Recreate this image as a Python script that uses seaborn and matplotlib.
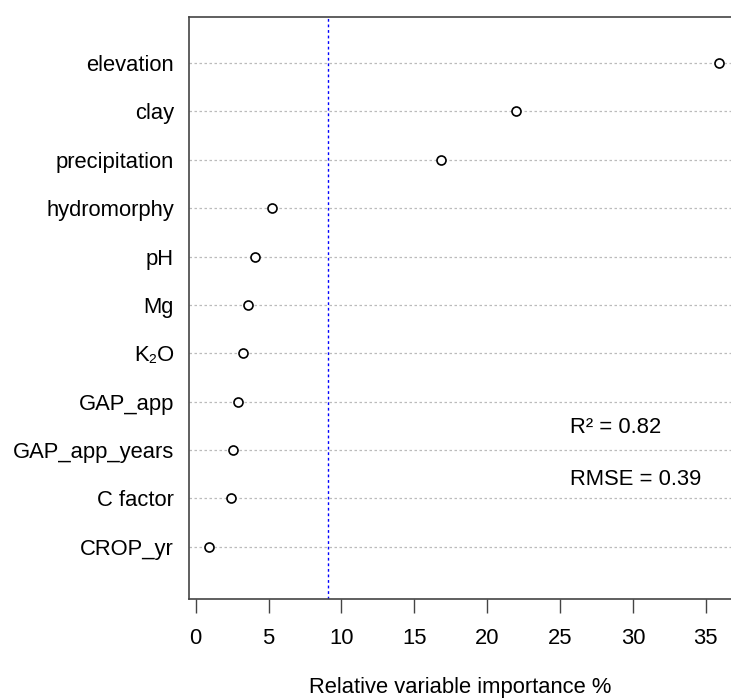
import matplotlib
matplotlib.use("Agg")
import matplotlib.pyplot as plt
import seaborn as sns
import pandas as pd
import numpy as np

variables = ["elevation", "clay", "precipitation", "hydromorphy", "pH", "Mg",
             "K\u2082O", "GAP_app", "GAP_app_years", "C factor", "CROP_yr"]
importance = [35.9, 22.0, 16.8, 5.2, 4.05, 3.6, 3.25, 2.9, 2.55, 2.42, 0.9]
mean_line = 9.09
r2_text = "R\u00b2 = 0.82"
rmse_text = "RMSE = 0.39"
xticks = [0, 5, 10, 15, 20, 25, 30, 35]

sns.set_style("white")
plt.rcParams['font.family'] = ['Liberation Sans', 'DejaVu Sans']
plt.rcParams['text.color'] = 'black'
plt.rcParams['xtick.color'] = 'black'
plt.rcParams['ytick.color'] = 'black'
plt.rcParams['axes.labelcolor'] = 'black'

FS = 15.8

n = len(variables)
df = pd.DataFrame({"variable": variables, "importance": importance,
                   "pos": np.arange(n, 0, -1)})

fig = plt.figure(figsize=(7.31, 7.0), dpi=100)
ax = fig.add_axes([0.258, 0.1449, 0.742, 0.8308])

for p in df["pos"]:
    ax.axhline(p, color="#bbbbbb", linestyle=(0, (2, 2)), linewidth=0.9, zorder=1)
ax.axvline(mean_line, color="blue", linestyle=(0, (2, 2)), linewidth=1.0, zorder=2)

sns.scatterplot(data=df, x="importance", y="pos", ax=ax, s=42,
                facecolor="white", edgecolor="black", linewidth=1.2, zorder=3)

ax.set_xlim(-0.49, 36.73)
ax.set_ylim(-0.07, 11.95)
ax.set_yticks(df["pos"])
ax.set_yticklabels(variables)
ax.set_xticks(xticks)
ax.tick_params(axis="y", length=0, pad=10.5, labelsize=FS)
ax.tick_params(axis="x", length=10, width=1, color="#444444", pad=11, labelsize=FS,
               direction="out", bottom=True)
ax.set_xlabel("Relative variable importance %", fontsize=FS, labelpad=20)
ax.set_ylabel("")
for s in ["left", "top", "bottom"]:
    ax.spines[s].set_color("#444444")
    ax.spines[s].set_linewidth(1.2)
ax.spines["right"].set_visible(False)

ax.text(25.7, 3.47, r2_text, fontsize=FS, va="center", ha="left")
ax.text(25.7, 2.4, rmse_text, fontsize=FS, va="center", ha="left")

fig.savefig("out.png", dpi=100)
